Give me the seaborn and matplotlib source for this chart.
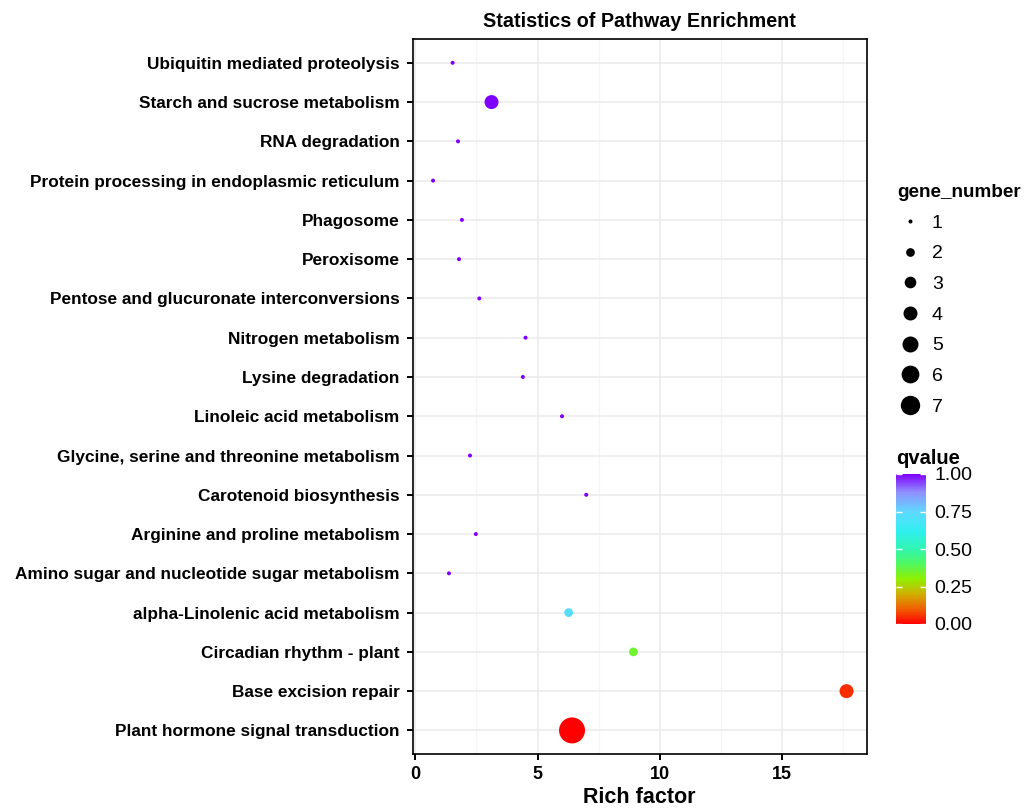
import numpy as np
import pandas as pd
import matplotlib
matplotlib.use("Agg")
import matplotlib.pyplot as plt
from matplotlib.colors import LinearSegmentedColormap, Normalize
from matplotlib.lines import Line2D
import matplotlib.colorbar as mcolorbar
import seaborn as sns

# Enriched pathways, listed top to bottom as displayed
pathways = [
    "Ubiquitin mediated proteolysis",
    "Starch and sucrose metabolism",
    "RNA degradation",
    "Protein processing in endoplasmic reticulum",
    "Phagosome",
    "Peroxisome",
    "Pentose and glucuronate interconversions",
    "Nitrogen metabolism",
    "Lysine degradation",
    "Linoleic acid metabolism",
    "Glycine, serine and threonine metabolism",
    "Carotenoid biosynthesis",
    "Arginine and proline metabolism",
    "Amino sugar and nucleotide sugar metabolism",
    "alpha-Linolenic acid metabolism",
    "Circadian rhythm - plant",
    "Base excision repair",
    "Plant hormone signal transduction",
]
rich_factor = [1.53, 3.12, 1.75, 0.73, 1.91, 1.79, 2.62, 4.51, 4.40, 6.00,
               2.24, 6.99, 2.48, 1.38, 6.27, 8.92, 17.63, 6.41]
gene_number = [1, 4, 1, 1, 1, 1, 1, 1, 1, 1, 1, 1, 1, 1, 2, 2, 4, 12]
qvalue = [1.0, 1.0, 1.0, 1.0, 1.0, 1.0, 1.0, 1.0, 1.0, 1.0,
          1.0, 1.0, 1.0, 1.0, 0.72, 0.35, 0.05, 0.0]

size_legend_values = [1, 2, 3, 4, 5, 6, 7]
q_ticks = [0.0, 0.25, 0.5, 0.75, 1.0]

df = pd.DataFrame({"pathway": pathways, "rich_factor": rich_factor,
                   "gene_number": gene_number, "qvalue": qvalue})

# Rainbow gradient from red (low q) to violet (high q)
rainbow = LinearSegmentedColormap.from_list("qrainbow", [
    (0.00, "#FF0000"), (0.10, "#F06000"), (0.20, "#D0B000"),
    (0.30, "#90F000"), (0.40, "#50F860"), (0.50, "#30F5B0"),
    (0.62, "#30F0F0"), (0.75, "#60D8FF"), (0.88, "#9090FF"),
    (1.00, "#8000FF")])
q_norm = Normalize(0, 1)

SIZE_MIN, SIZE_MAX = 8.3, 350.0
SIZE_NORM = (1, 12)


def marker_area(n):
    lo, hi = SIZE_NORM
    return SIZE_MIN + (n - lo) / (hi - lo) * (SIZE_MAX - SIZE_MIN)


plt.rcParams["font.family"] = ["Liberation Sans", "DejaVu Sans"]

fig = plt.figure(figsize=(10.28, 8.09), dpi=100)
ax = fig.add_axes([0.4015, 0.068, 0.4415, 0.8835])

sns.scatterplot(data=df, x="rich_factor", y="pathway", hue="qvalue",
                palette=rainbow, hue_norm=q_norm, size="gene_number",
                sizes=(SIZE_MIN, SIZE_MAX), size_norm=SIZE_NORM,
                linewidth=0, legend=False, ax=ax, zorder=3)

ax.set_xlim(-0.1, 18.45)
ax.set_ylim(len(pathways) - 0.4, -0.6)
ax.set_xticks([0, 5, 10, 15])
ax.set_xticks([2.5, 7.5, 12.5, 17.5], minor=True)
ax.grid(True, which="major", color="#EBEBEB", lw=1.1, zorder=0)
ax.grid(True, which="minor", axis="x", color="#F5F5F5", lw=0.9, zorder=0)
ax.set_axisbelow(True)
for s in ax.spines.values():
    s.set_color("black")
    s.set_linewidth(1.2)
ax.tick_params(axis="both", which="major", direction="out", length=4.5,
               width=1.4, color="black", pad=5)
ax.tick_params(axis="y", labelsize=12.4)
ax.tick_params(axis="x", labelsize=13, pad=4)
ax.tick_params(axis="x", which="minor", length=0)
for lab in ax.get_xticklabels() + ax.get_yticklabels():
    lab.set_fontweight("bold")
    lab.set_color("black")

ax.set_xlabel("Rich factor", fontsize=15.5, fontweight="bold", labelpad=3)
ax.set_ylabel("")
ax.set_title("Statistics of Pathway Enrichment", fontsize=14.2,
             fontweight="bold", pad=9)

# Size legend
handles = [Line2D([], [], marker="o", ls="", color="black",
                  markersize=np.sqrt(marker_area(n)), markeredgewidth=0)
           for n in size_legend_values]
leg = fig.legend(handles, [str(n) for n in size_legend_values],
                 loc="upper left", bbox_to_anchor=(0.865, 0.782),
                 frameon=False, fontsize=14, labelspacing=0.67,
                 handletextpad=0.5, handlelength=1.3, borderaxespad=0,
                 title="gene_number", alignment="left",
                 title_fontproperties={"weight": "bold", "size": 13.6})

# Colour bar for q-value
cax = fig.add_axes([896 / 1028, 1 - 624 / 809, 30 / 1028, 150 / 809])
cb = mcolorbar.ColorbarBase(cax, cmap=rainbow, norm=q_norm,
                            orientation="vertical", ticks=q_ticks)
cb.outline.set_visible(False)
cb.set_ticklabels([f"{t:.2f}" for t in q_ticks])
cax.tick_params(direction="in", color="white", length=4, width=1,
                left=True, right=True, labelsize=14, pad=6)
fig.text(896 / 1028, 1 - 458 / 809, "qvalue", fontsize=14.5,
         fontweight="bold", ha="left", va="center")

fig.savefig("out.png", dpi=100, facecolor="white")
